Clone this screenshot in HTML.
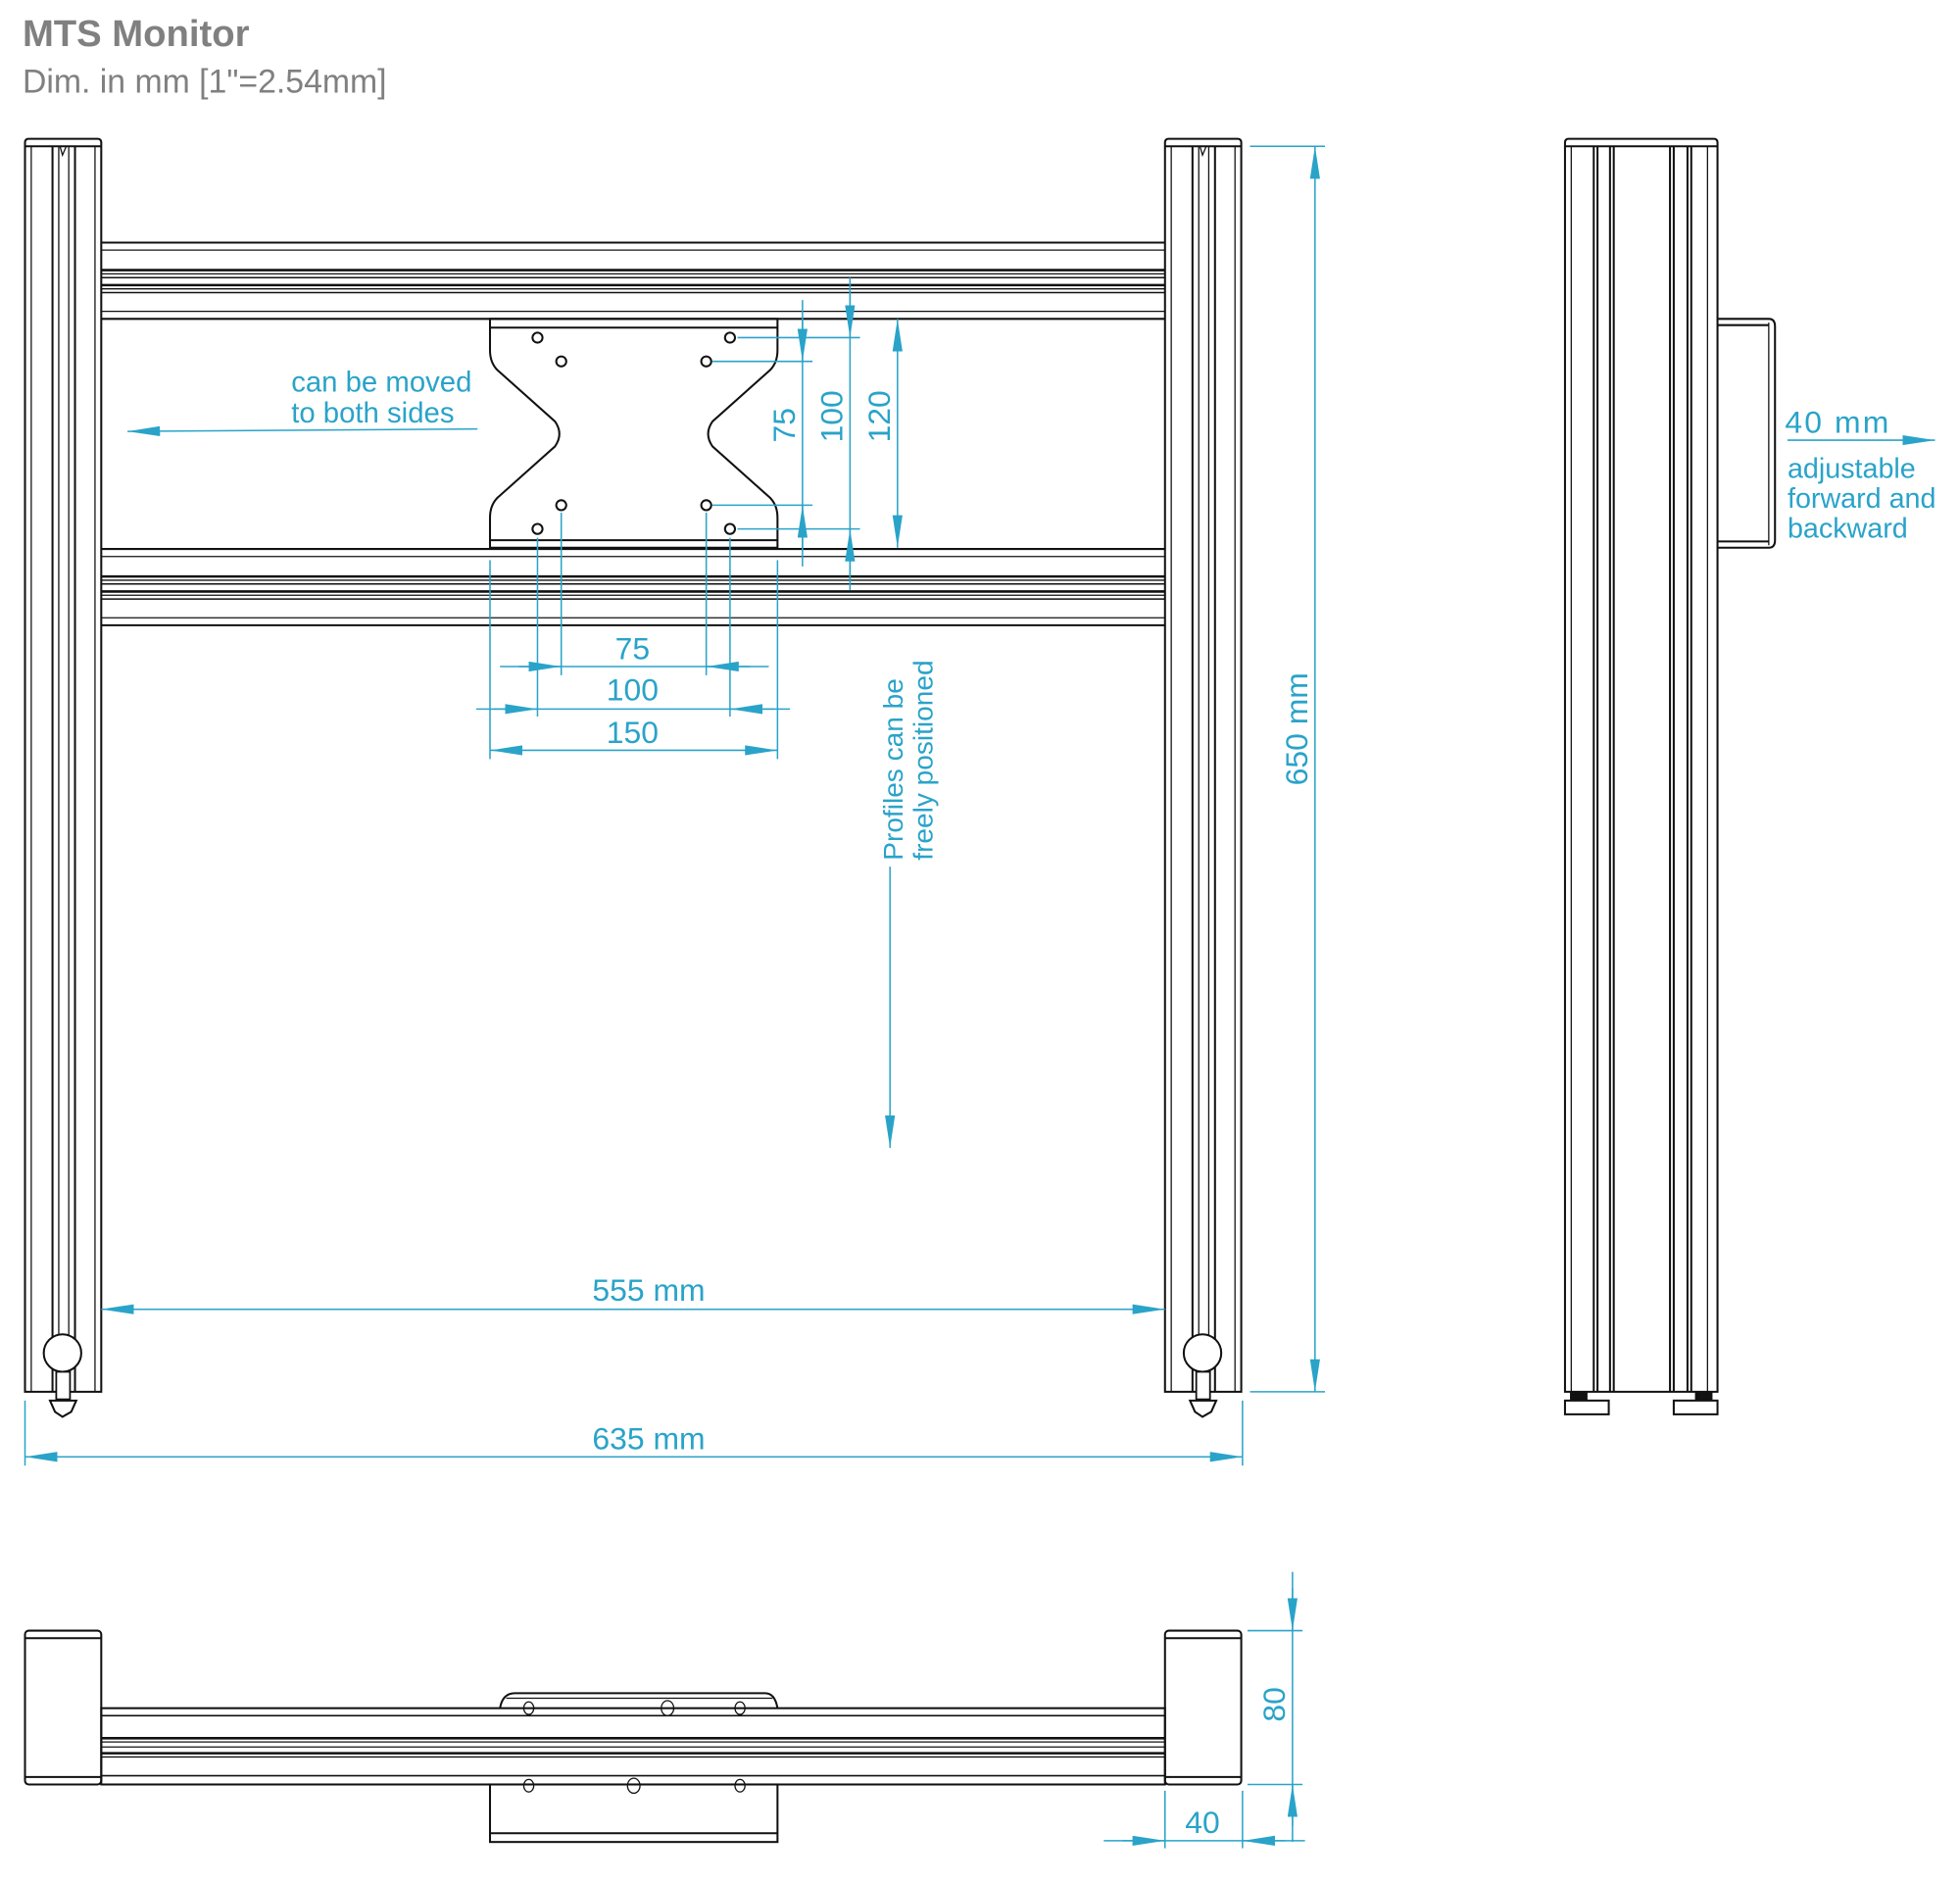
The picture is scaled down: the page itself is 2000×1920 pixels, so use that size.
<!DOCTYPE html>
<html><head><meta charset="utf-8"><style>
html,body{margin:0;padding:0;background:#fff;}
svg{display:block;}
text{font-family:"Liberation Sans",sans-serif;}
.c{fill:#2aa3c9;}
.k{stroke:#111;stroke-width:1.6;fill:none;}
.kt{stroke:#111;stroke-width:1;fill:none;}
.d{stroke:#2aa3c9;stroke-width:1.2;fill:none;}
.da{stroke:#2aa3c9;stroke-width:1.2;fill:none;marker-end:url(#a);}
.db{stroke:#2aa3c9;stroke-width:1.2;fill:none;marker-end:url(#a);marker-start:url(#a);}
</style></head><body>
<svg width="2000" height="1920" viewBox="0 0 1568 1505" preserveAspectRatio="none" xmlns="http://www.w3.org/2000/svg">
<defs>
<marker id="a" markerUnits="userSpaceOnUse" markerWidth="26" markerHeight="10" refX="26" refY="4" orient="auto-start-reverse"><path d="M0,0 L26,4 L0,8 z" fill="#2aa3c9"/></marker>
</defs>
<text x="18" y="37" font-size="30" font-weight="bold" fill="#808080">MTS Monitor</text>
<text x="18" y="74" font-size="26.5" fill="#808080">Dim. in mm [1"=2.54mm]</text>

<g id="post">
<path class="k" d="M20,1113 V114 Q20,111 23,111 H78 Q81,111 81,114 V1113 Z"/>
<line class="k" x1="20" y1="117" x2="81" y2="117"/>
<line class="kt" x1="25" y1="117" x2="25" y2="1113"/>
<line class="k" x1="42" y1="117" x2="42" y2="1113"/>
<line class="kt" x1="47" y1="117" x2="47" y2="1113"/>
<line class="kt" x1="55" y1="117" x2="55" y2="1113"/>
<line class="k" x1="60" y1="117" x2="60" y2="1113"/>
<line class="kt" x1="76" y1="117" x2="76" y2="1113"/>
<path class="kt" d="M48,117 L50,124 L53,117"/>
<circle cx="50" cy="1082" r="15" fill="#fff" stroke="#111" stroke-width="1.6"/>
<rect x="45" y="1097" width="11" height="22" fill="#fff" stroke="#111" stroke-width="1.4"/>
<path class="k" d="M40,1120 H61 L57,1129 L50,1133 L44,1129 Z" fill="#fff"/>
</g>
<use href="#post" x="912"/>

<g id="bar" class="k">
<line x1="81" y1="194" x2="932" y2="194"/>
<line x1="81" y1="200" x2="932" y2="200" stroke-width="1"/>
<line x1="81" y1="216" x2="932" y2="216" stroke-width="2"/>
<line x1="81" y1="219" x2="932" y2="219" stroke-width="1"/>
<line x1="81" y1="222" x2="932" y2="222" stroke-width="1.2"/>
<line x1="81" y1="228" x2="932" y2="228" stroke-width="2"/>
<line x1="81" y1="231" x2="932" y2="231" stroke-width="1"/>
<line x1="81" y1="234" x2="932" y2="234" stroke-width="1.2"/>
<line x1="81" y1="249" x2="932" y2="249" stroke-width="1"/>
<line x1="81" y1="255" x2="932" y2="255"/>
</g>
<use href="#bar" y="245"/>

<path class="k" fill="#fff" d="M392,255 H622 V280 Q622,290 616,296 L570,337 Q563,347 570,357 L616,398 Q622,404 622,414 V438 H392 V414 Q392,404 398,398 L444,357 Q451,347 444,337 L398,296 Q392,290 392,280 Z"/>
<line class="k" x1="392" y1="262" x2="622" y2="262"/>
<line class="k" x1="392" y1="432" x2="622" y2="432"/>
<g class="k" stroke-width="1.5">
<circle cx="430" cy="270" r="4"/><circle cx="584" cy="270" r="4"/>
<circle cx="430" cy="423" r="4"/><circle cx="584" cy="423" r="4"/>
<circle cx="449" cy="289" r="4"/><circle cx="565" cy="289" r="4"/>
<circle cx="449" cy="404" r="4"/><circle cx="565" cy="404" r="4"/>
</g>

<line class="d" x1="570" y1="289" x2="650" y2="289"/>
<line class="d" x1="570" y1="404" x2="650" y2="404"/>
<line class="d" x1="590" y1="270" x2="688" y2="270"/>
<line class="d" x1="590" y1="423" x2="688" y2="423"/>
<line class="d" x1="642" y1="240" x2="642" y2="453"/>
<line class="da" x1="642" y1="255" x2="642" y2="289"/>
<line class="da" x1="642" y1="440" x2="642" y2="404"/>
<line class="d" x1="680" y1="222" x2="680" y2="472"/>
<line class="da" x1="680" y1="235" x2="680" y2="270"/>
<line class="da" x1="680" y1="460" x2="680" y2="423"/>
<line class="db" x1="718" y1="255" x2="718" y2="438"/>
<text class="c" font-size="25" transform="translate(636,340) rotate(-90)" text-anchor="middle">75</text>
<text class="c" font-size="25" transform="translate(674,333) rotate(-90)" text-anchor="middle">100</text>
<text class="c" font-size="25" transform="translate(712,333) rotate(-90)" text-anchor="middle">120</text>

<line class="d" x1="392" y1="448" x2="392" y2="607"/>
<line class="d" x1="622" y1="448" x2="622" y2="607"/>
<line class="d" x1="430" y1="430" x2="430" y2="573"/>
<line class="d" x1="584" y1="430" x2="584" y2="573"/>
<line class="d" x1="449" y1="410" x2="449" y2="540"/>
<line class="d" x1="565" y1="410" x2="565" y2="540"/>
<line class="d" x1="400" y1="533" x2="615" y2="533"/>
<line class="da" x1="415" y1="533" x2="449" y2="533"/>
<line class="da" x1="600" y1="533" x2="565" y2="533"/>
<line class="d" x1="381" y1="567" x2="632" y2="567"/>
<line class="da" x1="395" y1="567" x2="430" y2="567"/>
<line class="da" x1="620" y1="567" x2="584" y2="567"/>
<line class="db" x1="392" y1="600" x2="622" y2="600"/>
<text class="c" font-size="25" x="506" y="527" text-anchor="middle">75</text>
<text class="c" font-size="25" x="506" y="560" text-anchor="middle">100</text>
<text class="c" font-size="25" x="506" y="594" text-anchor="middle">150</text>

<text class="c" font-size="23" x="233" y="313">can be moved</text>
<text class="c" font-size="23" x="233" y="338">to both sides</text>
<line class="da" x1="382" y1="343" x2="102" y2="345"/>

<text class="c" font-size="22" transform="translate(722,688) rotate(-90)">Profiles can be</text>
<text class="c" font-size="22" transform="translate(746,688) rotate(-90)">freely positioned</text>
<line class="da" x1="712" y1="693" x2="712" y2="918"/>

<line class="d" x1="1000" y1="117" x2="1060" y2="117"/>
<line class="d" x1="1000" y1="1113" x2="1060" y2="1113"/>
<line class="db" x1="1052" y1="117" x2="1052" y2="1113"/>
<text class="c" font-size="25" transform="translate(1046,583) rotate(-90)" text-anchor="middle">650 mm</text>

<line class="db" x1="81" y1="1047" x2="932" y2="1047"/>
<text class="c" font-size="25" x="519" y="1040" text-anchor="middle">555 mm</text>
<line class="d" x1="20" y1="1120" x2="20" y2="1172"/>
<line class="d" x1="994" y1="1120" x2="994" y2="1172"/>
<line class="db" x1="20" y1="1165" x2="994" y2="1165"/>
<text class="c" font-size="25" x="519" y="1159" text-anchor="middle">635 mm</text>

<path class="k" d="M1252,1113 V114 Q1252,111 1255,111 H1371 Q1374,111 1374,114 V1113 Z"/>
<line class="k" x1="1252" y1="117" x2="1374" y2="117"/>
<g class="kt">
<line x1="1257" y1="117" x2="1257" y2="1113"/>
<line x1="1366" y1="117" x2="1366" y2="1113"/>
</g>
<g class="k">
<line x1="1275" y1="117" x2="1275" y2="1113"/><line x1="1278" y1="117" x2="1278" y2="1113"/>
<line x1="1288" y1="117" x2="1288" y2="1113"/><line x1="1291" y1="117" x2="1291" y2="1113"/>
<line x1="1336" y1="117" x2="1336" y2="1113"/><line x1="1339" y1="117" x2="1339" y2="1113"/>
<line x1="1350" y1="117" x2="1350" y2="1113"/><line x1="1353" y1="117" x2="1353" y2="1113"/>
</g>
<path class="k" d="M1374,255 H1415 Q1420,255 1420,261 V432 Q1420,438 1415,438 H1374"/>
<line class="k" x1="1374" y1="260" x2="1415" y2="260"/>
<line class="k" x1="1374" y1="433" x2="1415" y2="433"/>
<line class="kt" x1="1415" y1="258" x2="1415" y2="436"/>
<rect x="1256" y="1113" width="14" height="7" fill="#111"/>
<rect x="1356" y="1113" width="14" height="7" fill="#111"/>
<rect class="k" x="1252" y="1120" width="35" height="11"/>
<rect class="k" x="1339" y="1120" width="35" height="11"/>
<text class="c" font-size="25" x="1428" y="346" textLength="83">40 mm</text>
<line class="da" x1="1430" y1="352" x2="1548" y2="352"/>
<text class="c" font-size="22.5" x="1430" y="382">adjustable</text>
<text class="c" font-size="22.5" x="1430" y="406">forward and</text>
<text class="c" font-size="22.5" x="1430" y="430">backward</text>

<path class="k" d="M400,1366 Q402,1354 412,1354 H612 Q620,1354 622,1366"/>
<line class="kt" x1="405" y1="1358" x2="618" y2="1358"/>
<g class="kt">
<ellipse cx="423" cy="1366" rx="4" ry="5"/><ellipse cx="534" cy="1366" rx="5" ry="6"/><ellipse cx="592" cy="1366" rx="4" ry="5"/>
<ellipse cx="423" cy="1428" rx="4" ry="5"/><ellipse cx="507" cy="1428" rx="5" ry="6"/><ellipse cx="592" cy="1428" rx="4" ry="5"/>
</g>
<rect class="k" x="392" y="1427" width="230" height="46" fill="#fff"/>
<line class="k" x1="392" y1="1466" x2="622" y2="1466"/>
<rect class="k" x="81" y="1366" width="851" height="61" fill="#fff"/>
<g class="k">
<line x1="81" y1="1372" x2="932" y2="1372" stroke-width="1.2"/>
<line x1="81" y1="1390" x2="932" y2="1390" stroke-width="2"/>
<line x1="81" y1="1393" x2="932" y2="1393" stroke-width="1"/>
<line x1="81" y1="1397" x2="932" y2="1397" stroke-width="1"/>
<line x1="81" y1="1402" x2="932" y2="1402" stroke-width="2"/>
<line x1="81" y1="1405" x2="932" y2="1405" stroke-width="1"/>
<line x1="81" y1="1420" x2="932" y2="1420" stroke-width="1.2"/>
</g>
<g id="blk">
<rect class="k" x="20" y="1304" width="61" height="123" rx="3" fill="#fff"/>
<line class="k" x1="20" y1="1310" x2="81" y2="1310"/>
<line class="k" x1="20" y1="1421" x2="81" y2="1421"/>
</g>
<use href="#blk" x="912"/>
<line class="d" x1="998" y1="1304" x2="1042" y2="1304"/>
<line class="d" x1="998" y1="1427" x2="1042" y2="1427"/>
<line class="d" x1="1034" y1="1257" x2="1034" y2="1473"/>
<line class="da" x1="1034" y1="1270" x2="1034" y2="1304"/>
<line class="da" x1="1034" y1="1460" x2="1034" y2="1427"/>
<text class="c" font-size="25" transform="translate(1028,1363) rotate(-90)" text-anchor="middle">80</text>
<line class="d" x1="932" y1="1432" x2="932" y2="1478"/>
<line class="d" x1="994" y1="1432" x2="994" y2="1478"/>
<line class="d" x1="883" y1="1472" x2="1044" y2="1472"/>
<line class="da" x1="898" y1="1472" x2="932" y2="1472"/>
<line class="da" x1="1028" y1="1472" x2="994" y2="1472"/>
<text class="c" font-size="25" x="962" y="1466" text-anchor="middle">40</text>
</svg>
</body></html>
